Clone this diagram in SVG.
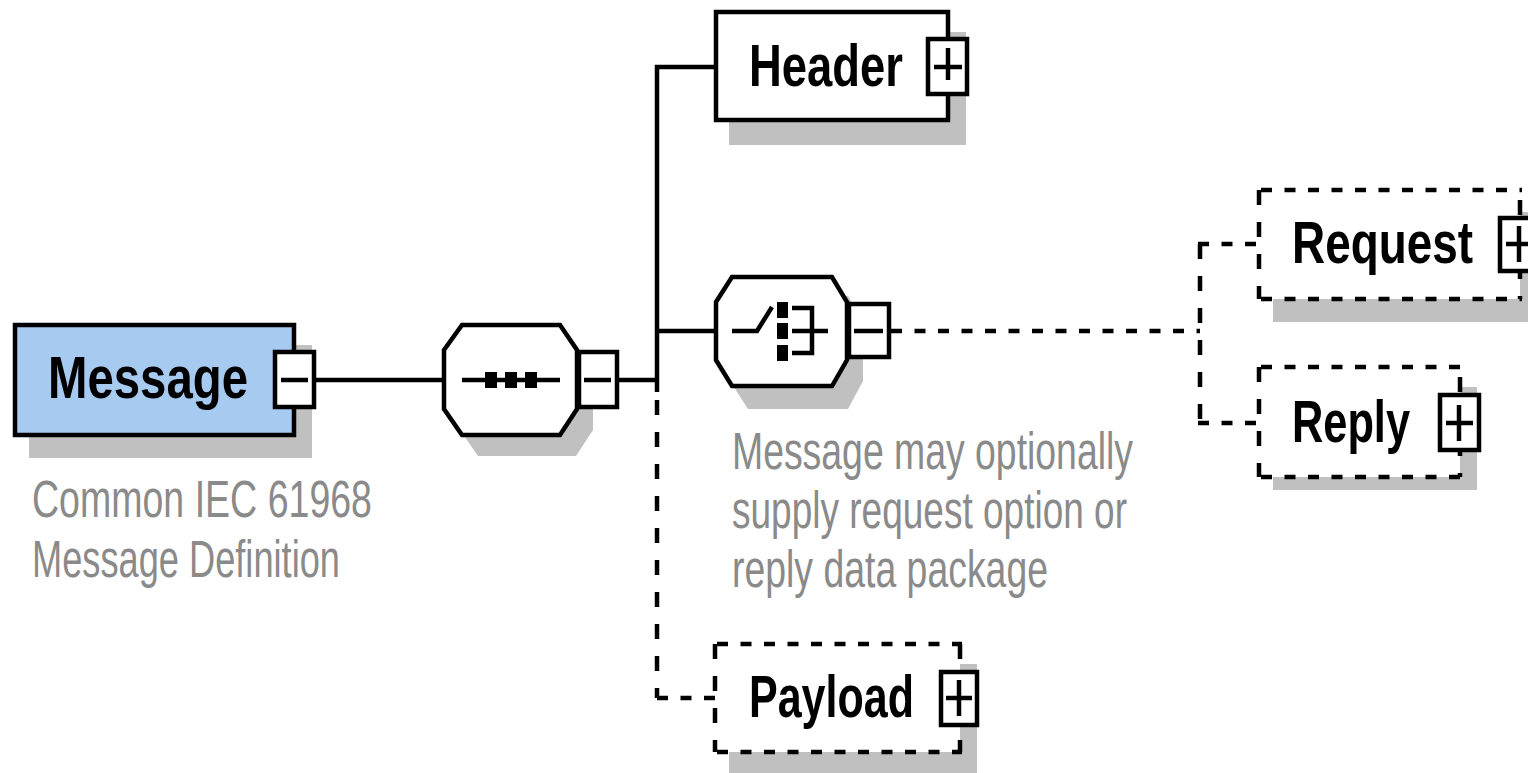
<svg xmlns="http://www.w3.org/2000/svg" width="1528" height="773" viewBox="0 0 1528 773">
<style>
.bx{fill:#fff;stroke:#000;stroke-width:4.5}
.sh{fill:#C0C0C0;stroke:none}
.ln{stroke:#000;stroke-width:4.5;fill:none}
.dh{stroke:#000;stroke-width:4.5;fill:none;stroke-dasharray:11 12.5}
.dv{stroke:#000;stroke-width:4.5;fill:none;stroke-dasharray:15 17}
.lbl{font-family:"Liberation Sans",Arial,sans-serif;font-weight:bold;font-size:60px;fill:#000}
.ann{font-family:"Liberation Sans",Arial,sans-serif;font-size:51px;fill:#8a8a8a}
.sym{fill:#000;stroke:none}
</style>
<rect width="1528" height="773" fill="#fff"/>
<g id="connectors">
<line class="ln" x1="316" y1="380" x2="444" y2="380"/>
<line class="ln" x1="619" y1="380" x2="657" y2="380"/>
<line class="ln" x1="657" y1="65" x2="657" y2="392"/>
<line class="ln" x1="655" y1="67" x2="714" y2="67"/>
<line class="ln" x1="657" y1="331" x2="714" y2="331"/>
<line class="dv" x1="657" y1="400" x2="657" y2="698"/>
<line class="dh" x1="657" y1="698" x2="715" y2="698"/>
<line class="dh" x1="891" y1="331" x2="1200" y2="331"/>
<line class="dv" x1="1200" y1="244" x2="1200" y2="423"/>
<line class="dh" x1="1198" y1="244" x2="1259" y2="244"/>
<line class="dh" x1="1198" y1="423" x2="1259" y2="423"/>
</g>
<g id="message">
<rect class="sh" x="29" y="345" width="283" height="113"/>
<rect x="15" y="325" width="279" height="110" fill="#A6CAF0" stroke="#000" stroke-width="4.5"/>
<text class="lbl" x="48" y="398" textLength="200" lengthAdjust="spacingAndGlyphs">Message</text>
<rect class="bx" x="275" y="352" width="39" height="55"/>
<line class="ln" x1="281" y1="380" x2="308" y2="380"/>
</g>
<g id="message-note">
<text class="ann" x="32" y="517" textLength="340" lengthAdjust="spacingAndGlyphs">Common IEC 61968</text>
<text class="ann" x="32" y="577" textLength="308" lengthAdjust="spacingAndGlyphs">Message Definition</text>
</g>
<g id="sequence">
<polygon class="sh" points="460,371 478,346 576,346 593,371 593,430 576,456 478,456 460,430"/>
<polygon class="bx" points="444,350 462,325 560,325 577,350 577,409 560,435 462,435 444,409"/>
<line class="ln" x1="462" y1="380" x2="560" y2="380"/>
<rect class="sym" x="485" y="372" width="12" height="16"/>
<rect class="sym" x="505" y="372" width="12" height="16"/>
<rect class="sym" x="525" y="372" width="12" height="16"/>
<rect class="bx" x="579" y="352" width="38" height="55"/>
<line class="ln" x1="584" y1="380" x2="611" y2="380"/>
</g>
<g id="header">
<rect class="sh" x="729" y="32" width="237" height="113"/>
<rect class="bx" x="716" y="12" width="232" height="108"/>
<text class="lbl" x="749" y="86" textLength="154" lengthAdjust="spacingAndGlyphs">Header</text>
<rect class="bx" x="928" y="39" width="39" height="55"/>
<line class="ln" x1="934" y1="67" x2="962" y2="67"/>
<line class="ln" x1="948" y1="48" x2="948" y2="80"/>
</g>
<g id="choice">
<polygon class="sh" points="730,323 748,296 848,296 863,323 863,381 848,409 748,409 730,381"/>
<polygon class="bx" points="716,302 732,277 832,277 847,302 847,360 832,386 732,386 716,360"/>
<polyline class="ln" points="732,331 757,331 772,307"/>
<rect class="sym" x="777" y="302" width="11" height="16"/>
<rect class="sym" x="777" y="323" width="11" height="16"/>
<rect class="sym" x="777" y="345" width="11" height="16"/>
<polyline class="ln" points="792,308 812,308 812,353 792,353"/>
<line class="ln" x1="792" y1="331" x2="828" y2="331"/>
<rect class="bx" x="849" y="304" width="40" height="53"/>
<line class="ln" x1="854" y1="331" x2="883" y2="331"/>
</g>
<g id="choice-note">
<text class="ann" x="732" y="469" textLength="401" lengthAdjust="spacingAndGlyphs">Message may optionally</text>
<text class="ann" x="732" y="528" textLength="395" lengthAdjust="spacingAndGlyphs">supply request option or</text>
<text class="ann" x="732" y="587" textLength="316" lengthAdjust="spacingAndGlyphs">reply data package</text>
</g>
<g id="request">
<rect class="sh" x="1273" y="212" width="263" height="110"/>
<rect x="1259" y="190" width="261" height="109" fill="#fff"/>
<path class="dh" d="M1261,190 H1522 M1261,299 H1522"/>
<path class="dv" d="M1259,190 V299 M1520,200 V299"/>
<text class="lbl" x="1292" y="263" textLength="181" lengthAdjust="spacingAndGlyphs">Request</text>
<rect class="bx" x="1500" y="218" width="40" height="53"/>
<line class="ln" x1="1506" y1="244" x2="1534" y2="244"/>
<line class="ln" x1="1519" y1="226" x2="1519" y2="262"/>
</g>
<g id="reply">
<rect class="sh" x="1273" y="387" width="204" height="103"/>
<rect x="1259" y="367" width="201" height="110" fill="#fff"/>
<path class="dh" d="M1261,367 H1462 M1261,477 H1462"/>
<path class="dv" d="M1259,367 V477 M1460,377 V477"/>
<text class="lbl" x="1292" y="442" textLength="118" lengthAdjust="spacingAndGlyphs">Reply</text>
<rect class="bx" x="1440" y="395" width="39" height="55"/>
<line class="ln" x1="1446" y1="423" x2="1473" y2="423"/>
<line class="ln" x1="1459" y1="405" x2="1459" y2="441"/>
</g>
<g id="payload">
<rect class="sh" x="729" y="664" width="248" height="109"/>
<rect x="715" y="644" width="245" height="108" fill="#fff"/>
<path class="dh" d="M717,644 H962 M717,752 H962"/>
<path class="dv" d="M715,644 V752 M960,644 V752"/>
<text class="lbl" x="749" y="717" textLength="165" lengthAdjust="spacingAndGlyphs">Payload</text>
<rect class="bx" x="941" y="672" width="36" height="53"/>
<line class="ln" x1="946" y1="698" x2="972" y2="698"/>
<line class="ln" x1="959" y1="680" x2="959" y2="716"/>
</g>
</svg>
